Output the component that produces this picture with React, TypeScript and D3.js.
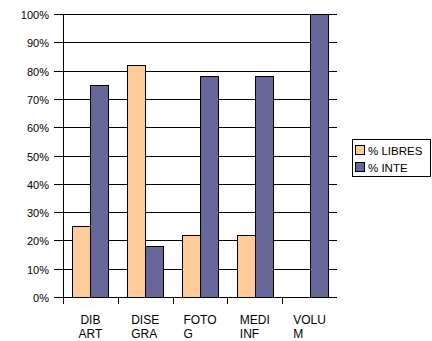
import React from "react";
import * as d3 from "d3";

const categories = ["DIB ART", "DISE GRA", "FOTO G", "MEDI INF", "VOLU M"];
const seriesNames = ["% LIBRES", "% INTE"];
const libresValues = [25, 82, 22, 22, 0];
const inteValues = [75, 18, 78, 78, 100];
const seriesColors = ["#FFCC99", "#666699"];
const yTicks = [0, 10, 20, 30, 40, 50, 60, 70, 80, 90, 100];

const FONT = "Arial, 'Liberation Sans', sans-serif";

let ctx: CanvasRenderingContext2D | null = null;
function measure(text: string, size: number): number {
  if (!ctx) {
    const c = document.createElement("canvas");
    ctx = c.getContext("2d");
  }
  if (!ctx) return text.length * size * 0.6;
  ctx.font = `${size}px "Liberation Sans", Arial, sans-serif`;
  return ctx.measureText(text).width;
}

export default function App() {
  const W = 432, H = 341;
  const left = 63, right = 337, top = 14, bottom = 297;

  const x = d3.scaleBand<string>().domain(categories).range([left, right]).paddingInner(0).paddingOuter(0);
  const inner = d3.scaleBand<string>().domain(seriesNames).range([0, x.bandwidth()]).paddingInner(0).paddingOuter(0.5);
  const y = d3.scaleLinear().domain([0, 100]).range([bottom, top]);

  const data = [libresValues, inteValues];

  return (
    <div style={{ position: "absolute", left: 0, top: 0 }}>
      <svg width={W} height={H} style={{ display: "block", background: "#fff" }} fontFamily={FONT}>
        {/* gridlines */}
        {yTicks.map((t) => (
          <line key={"g" + t} x1={left - 9} x2={right} y1={Math.round(y(t)) + 0.5} y2={Math.round(y(t)) + 0.5} stroke="#000" strokeWidth={1} />
        ))}
        {/* y labels */}
        {yTicks.map((t) => (
          <text key={"yl" + t} x={49} y={Math.round(y(t)) + 4.5} fontSize={11} textAnchor="end" fill="#000">
            {t + "%"}
          </text>
        ))}
        {/* bars */}
        {categories.map((c, i) =>
          seriesNames.map((s, j) => {
            const v = data[j][i];
            const bx = (x(c) as number) + (inner(s) as number);
            const by = y(v);
            return (
              <rect
                key={c + s}
                x={Math.round(bx) + 0.5}
                y={Math.round(by) + 0.5}
                width={Math.round(inner.bandwidth())}
                height={Math.max(0, Math.round(y(0)) - Math.round(by))}
                fill={seriesColors[j]}
                stroke="#000"
                strokeWidth={1}
              />
            );
          })
        )}
        {/* left axis */}
        <line x1={left + 0.5} x2={left + 0.5} y1={top} y2={bottom + 7} stroke="#000" />
        {/* bottom axis ticks */}
        {categories.map((c) => (
          <line key={"xt" + c} x1={Math.round(x(c) as number) + 0.5} x2={Math.round(x(c) as number) + 0.5} y1={bottom} y2={bottom + 7} stroke="#000" />
        ))}
        {/* category labels */}
        {categories.map((c) => {
          const [l1, l2] = c.split(" ");
          const cx = (x(c) as number) + x.bandwidth() / 2;
          const w1 = measure(l1, 12);
          const w2 = measure(l2, 12);
          const s1 = cx - w1 / 2;
          const s2 = Math.min(s1, cx - w2 / 2);
          return (
            <g key={"cl" + c}>
              <text x={s1} y={323.5} fontSize={12} fill="#000">{l1}</text>
              <text x={s2} y={337.5} fontSize={12} fill="#000">{l2}</text>
            </g>
          );
        })}
        {/* legend */}
        <rect x={352.5} y={139.5} width={78} height={37} fill="#fff" stroke="#000" strokeWidth={1} />
        {seriesNames.map((s, j) => (
          <g key={"lg" + s}>
            <rect x={355.5} y={145.5 + j * 17} width={9} height={9} fill={seriesColors[j]} stroke="#000" strokeWidth={1} />
            <text x={368} y={154.5 + j * 17} fontSize={11.5} fill="#000">{s}</text>
          </g>
        ))}
      </svg>
    </div>
  );
}
